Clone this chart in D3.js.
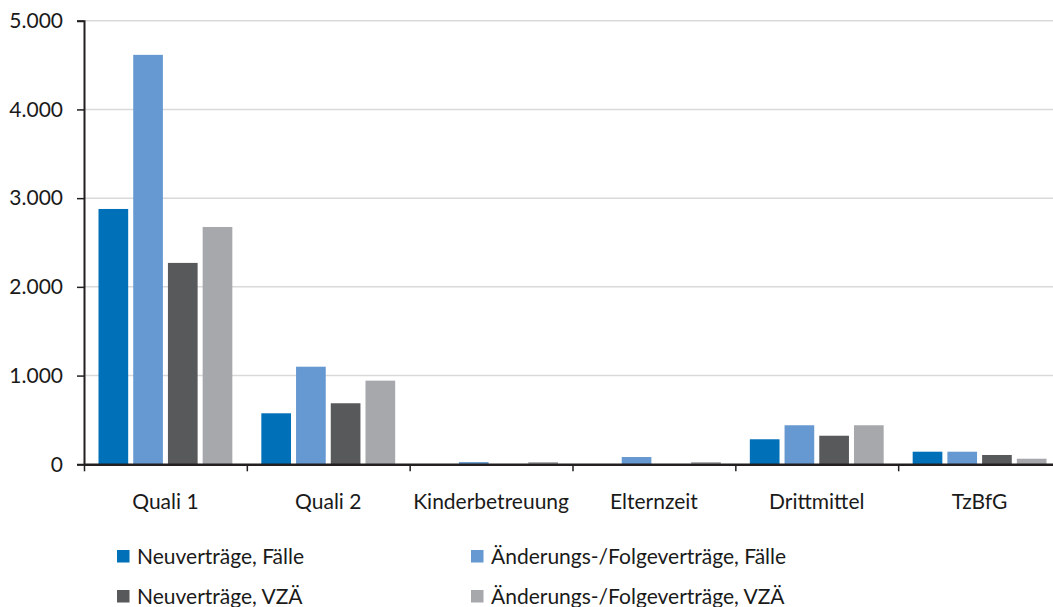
<!DOCTYPE html>
<html>
<head>
<meta charset="utf-8">
<script src="https://cdn.jsdelivr.net/npm/d3@7"></script>
<style>
  body { margin: 0; background: #fff; }
  text { font-family: Lato, "Open Sans", sans-serif; fill: #1a1a1a; }
</style>
</head>
<body>
<div id="chart"></div>
<script>
// data
var categories = ["Quali 1", "Quali 2", "Kinderbetreuung", "Elternzeit", "Drittmittel", "TzBfG"];
var series = ["Neuverträge, Fälle", "Änderungs-/Folgeverträge, Fälle", "Neuverträge, VZÄ", "Änderungs-/Folgeverträge, VZÄ"];
var neuFaelle = [2878, 575, 0, 0, 282, 142];
var aendFaelle = [4615, 1100, 25, 82, 440, 142];
var neuVza = [2270, 688, 0, 0, 322, 105];
var aendVza = [2675, 943, 25, 25, 440, 63];
var yTicks = [0, 1000, 2000, 3000, 4000, 5000];
var colors = ["#0070b8", "#6699d1", "#58595b", "#a7a8ab"];

var values = [neuFaelle, aendFaelle, neuVza, aendVza];
var data = categories.map(function (c, i) {
    return { cat: c, vals: series.map(function (s, j) { return { key: s, value: values[j][i] }; }) };
});

var W = 1053, H = 607;
var svg = d3.select("#chart")
    .append("svg")
    .attr("width", W)
    .attr("height", H);

var x0 = d3.scaleBand()
    .domain(categories)
    .range([84, 1061]);

var x1 = d3.scaleBand()
    .domain(series)
    .range([14.5, x0.bandwidth() - 14.5])
    .paddingInner(0.145);

var y = d3.scaleLinear()
    .domain([0, 5000])
    .range([464.3, 20.7]);

var color = d3.scaleOrdinal()
    .domain(series)
    .range(colors);

// gridlines
svg.append("g")
    .selectAll("line")
    .data(yTicks.slice(1))
    .enter()
    .append("line")
    .attr("x1", 84)
    .attr("x2", 1061)
    .attr("y1", function (d) { return y(d); })
    .attr("y2", function (d) { return y(d); })
    .attr("stroke", "#d9d9d9")
    .attr("stroke-width", 1.5);

// bars
svg.append("g")
    .selectAll("g")
    .data(data)
    .enter()
    .append("g")
    .attr("transform", function (d) { return "translate(" + x0(d.cat) + ",0)"; })
    .selectAll("rect")
    .data(function (d) { return d.vals; })
    .enter()
    .append("rect")
    .attr("x", function (d) { return x1(d.key); })
    .attr("y", function (d) { return y(d.value); })
    .attr("width", x1.bandwidth())
    .attr("height", function (d) { return y(0) - y(d.value); })
    .attr("fill", function (d) { return color(d.key); });

// y axis
var yAxis = svg.append("g")
    .attr("transform", "translate(84,0)")
    .call(d3.axisLeft(y)
        .tickValues(yTicks)
        .tickSize(7)
        .tickPadding(14)
        .tickFormat(function (d) { return d3.format(",")(d).replace(/,/g, "."); }));
yAxis.select(".domain").attr("stroke", "#231f20").attr("stroke-width", 2);
yAxis.selectAll(".tick line").attr("stroke", "#231f20").attr("stroke-width", 1.5);
yAxis.selectAll("text").style("font-size", "21px").attr("fill", "#1a1a1a");

// x axis
var xAxis = svg.append("g")
    .attr("transform", "translate(0," + y(0) + ")")
    .call(d3.axisBottom(x0).tickSize(0).tickPadding(30));
xAxis.select(".domain").attr("stroke", "#231f20").attr("stroke-width", 2.5);
xAxis.selectAll("text").style("font-size", "21px").attr("fill", "#1a1a1a");

// category separators
svg.append("g")
    .selectAll("line")
    .data(categories)
    .enter()
    .append("line")
    .attr("x1", function (d) { return x0(d) + 0.5; })
    .attr("x2", function (d) { return x0(d) + 0.5; })
    .attr("y1", y(0))
    .attr("y2", y(0) + 7)
    .attr("stroke", "#231f20")
    .attr("stroke-width", 1.5);

// legend
var legend = svg.append("g")
    .selectAll("g")
    .data(series)
    .enter()
    .append("g")
    .attr("transform", function (d, i) {
        return "translate(" + (i % 2 === 0 ? 117 : 471) + "," + (i < 2 ? 550 : 590) + ")";
    });
legend.append("rect")
    .attr("width", 12.5)
    .attr("height", 12.5)
    .attr("fill", function (d) { return color(d); });
legend.append("text")
    .attr("x", 20)
    .attr("y", 6)
    .attr("dy", "0.36em")
    .style("font-size", "21px")
    .text(function (d) { return d; });
</script>
</body>
</html>
